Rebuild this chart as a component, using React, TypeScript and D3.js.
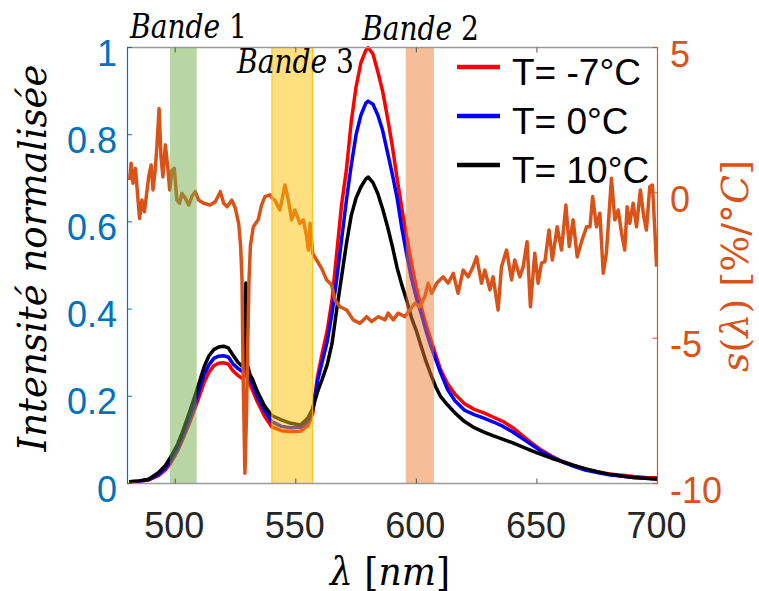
import React from "react";
import * as d3 from "d3";

// ---------- data ----------
const wavelengths = [
  481, 485, 489, 493, 496, 498, 501, 503, 506, 509,
  512, 514, 516, 518, 520, 522, 524, 526, 527.5, 528.5,
  529.3, 530, 531, 532, 534, 537, 540, 544, 548, 552,
  555, 557, 559, 561, 563, 565, 567, 569, 571, 573,
  575, 577, 579, 580, 582, 584, 586, 588, 590, 592,
  594, 596, 598, 600, 602, 604, 606, 608, 610, 613,
  616, 620, 624, 628, 632, 636, 640, 644, 648, 652,
  656, 660, 665, 670, 675, 680, 685, 690, 695, 700,
];

const intensityMinus7 = [
  0.003, 0.005, 0.008, 0.018, 0.032, 0.046, 0.075, 0.1, 0.14, 0.185,
  0.232, 0.255, 0.27, 0.276, 0.277, 0.274, 0.258, 0.248, 0.242, 0.245,
  0.3, 0.24, 0.228, 0.215, 0.188, 0.155, 0.13, 0.121, 0.119, 0.12,
  0.133, 0.16, 0.245, 0.3, 0.35, 0.42, 0.53, 0.64, 0.72, 0.83,
  0.91, 0.965, 0.993, 1.0, 0.985, 0.945, 0.9, 0.84, 0.775, 0.7,
  0.63, 0.565, 0.505, 0.45, 0.405, 0.365, 0.33, 0.295, 0.262, 0.228,
  0.205, 0.183, 0.17, 0.162, 0.152, 0.142, 0.128, 0.11, 0.092, 0.076,
  0.063, 0.052, 0.042, 0.033, 0.027, 0.022, 0.019, 0.016, 0.014, 0.013,
];

const intensity0 = [
  0.004, 0.005, 0.009, 0.02, 0.036, 0.052, 0.082, 0.108, 0.152, 0.198,
  0.25, 0.272, 0.287, 0.292, 0.293, 0.29, 0.274, 0.264, 0.258, 0.26,
  0.33, 0.255, 0.24, 0.228, 0.2, 0.167, 0.142, 0.131, 0.128, 0.129,
  0.142, 0.168, 0.235, 0.28, 0.325, 0.39, 0.47, 0.56, 0.65, 0.73,
  0.8, 0.845, 0.872, 0.877, 0.87, 0.845, 0.81, 0.76, 0.71, 0.655,
  0.585, 0.525, 0.47, 0.425, 0.39, 0.35, 0.315, 0.285, 0.255, 0.215,
  0.19, 0.168, 0.158, 0.15, 0.141, 0.131, 0.118, 0.103, 0.088, 0.073,
  0.061, 0.051, 0.04, 0.031, 0.025, 0.02, 0.017, 0.014, 0.012, 0.011,
];

const intensity10 = [
  0.004, 0.006, 0.01, 0.025, 0.042, 0.06, 0.09, 0.118, 0.165, 0.215,
  0.268, 0.293, 0.307, 0.313, 0.315, 0.311, 0.294, 0.278, 0.27, 0.275,
  0.46, 0.27, 0.25, 0.24, 0.212, 0.178, 0.156, 0.146, 0.138, 0.134,
  0.15, 0.172, 0.21, 0.24, 0.272, 0.32, 0.4, 0.475, 0.55, 0.615,
  0.655, 0.68, 0.698, 0.703, 0.69, 0.665, 0.63, 0.59, 0.545, 0.495,
  0.455, 0.42, 0.38, 0.35, 0.315, 0.28, 0.25, 0.222, 0.2, 0.18,
  0.162, 0.142, 0.128, 0.118, 0.109, 0.101, 0.093, 0.084, 0.075, 0.066,
  0.058, 0.051, 0.042, 0.034, 0.027, 0.021, 0.017, 0.014, 0.012, 0.01,
];

const sWavelengths = [
  481.1, 481.7, 482.5, 483.5, 485.2, 486.2, 487.2, 488.0, 489.0, 490.0,
  490.8, 491.7, 492.4, 493.3, 494.1, 494.9, 495.9, 496.9, 497.7, 498.7,
  499.6, 500.7, 501.8, 502.8, 504.2, 505.6, 506.9, 508.3, 509.7, 511.8,
  514.5, 516.6, 518.7, 520.1, 521.5, 523.5, 524.9, 526.3, 527.1, 527.7,
  528.2, 528.9, 529.6, 530.0, 530.6, 531.2, 532.4, 534.4, 535.8, 537.2,
  539.3, 540.4, 541.3, 543.4, 545.5, 546.9, 548.3, 549.6, 551.7, 553.1,
  554.5, 555.2, 555.9, 557.0, 558.6, 560.7, 562.8, 564.9, 566.2, 568.3,
  571.1, 573.8, 576.6, 579.4, 581.4, 584.2, 587.0, 588.3, 590.4, 592.5,
  595.2, 597.3, 599.4, 601.4, 603.5, 604.9, 606.3, 608.4, 611.1, 613.2,
  615.3, 617.3, 619.4, 621.5, 623.5, 625.0, 627.0, 628.4, 630.5, 631.8,
  633.9, 635.3, 637.4, 639.5, 640.8, 642.9, 644.3, 645.9, 647.3, 649.1,
  650.5, 651.9, 653.3, 655.0, 656.4, 658.4, 660.2, 662.0, 663.4, 665.0,
  666.7, 668.5, 670.6, 672.0, 673.1, 674.7, 676.1, 677.5, 678.8, 680.9,
  682.3, 683.7, 685.1, 686.4, 687.4, 688.5, 689.9, 691.3, 692.9, 694.3,
  695.4, 696.8, 697.9, 698.9, 699.6,
];

const sValues = [
  0.44, 1.02, 0.33, 0.84, -0.88, -0.25, -0.65, -0.13, 0.55, 0.96,
  0.1, 0.79, 1.59, 2.9, 1.24, 0.55, 1.65, 0.9, 0.1, 0.79,
  0.84, -0.25, -0.36, -0.02, -0.19, -0.42, -0.13, 0.04, -0.25, -0.36,
  -0.42, -0.31, 0.04, -0.36, -0.48, -0.25, -0.53, -1.05, -1.8, -3.0,
  -6.5, -9.65, -7.5, -5.5, -3.0, -1.8, -1.17, -0.93, -0.42, -0.13,
  -0.07, -0.2, -0.25, -0.59, 0.27, -0.25, -0.93, -0.59, -1.05, -0.93,
  -1.51, -1.97, -1.05, -2.08, -2.31, -2.6, -3.0, -3.17, -3.69, -3.92,
  -4.03, -4.37, -4.49, -4.26, -4.43, -4.26, -4.37, -4.14, -4.37, -4.14,
  -4.26, -4.03, -3.8, -3.92, -3.57, -3.11, -3.46, -3.11, -2.89, -3.11,
  -2.77, -3.46, -2.66, -2.89, -2.54, -2.2, -3.11, -2.66, -3.34, -2.89,
  -4.03, -2.54, -1.97, -3.0, -2.31, -2.89, -2.54, -1.68, -3.92, -2.08,
  -3.11, -2.42, -2.37, -1.28, -2.31, -1.17, -1.97, -0.42, -1.85, -0.93,
  -2.2, -1.68, -1.17, -1.17, -0.13, -1.17, -0.7, -2.77, -2.08, 0.5,
  -0.93, -0.59, -1.39, -1.97, -0.48, -1.05, -0.36, -1.17, 0.1, -0.82,
  -1.28, 0.21, 0.27, -1.28, -2.54,
];

const xTicks = [500, 550, 600, 650, 700];
const yLeftTicks = [0, 0.2, 0.4, 0.6, 0.8, 1];
const yRightTicks = [-10, -5, 0, 5];

const bandNames = ["Bande 1", "Bande 3", "Bande 2"];
const bandRanges: [number, number][] = [
  [497.8, 508.9],
  [540.1, 557.0],
  [595.6, 607.3],
];

const legendLabels = ["T= -7°C", "T= 0°C", "T= 10°C"];

// ---------- layout ----------
const W = 759;
const H = 591;
const L = 127;
const R = 657.5;
const T = 47.5;
const B = 483.5;

const BLUE = "#0072BD";
const ORANGE = "#D95319";

export default function App() {
  const x = d3.scaleLinear().domain([480, 700]).range([L, R]);
  const yL = d3.scaleLinear().domain([0, 1]).range([B, T]);
  const yR = d3.scaleLinear().domain([-10, 5]).range([B, T]);

  const lineL = (vals: number[]) =>
    d3
      .line<number>()
      .x((_, i) => x(wavelengths[i]))
      .y((d) => yL(d))(vals) || "";

  const sPath =
    d3
      .line<number>()
      .x((_, i) => x(sWavelengths[i]))
      .y((d) => yR(d))(sValues) || "";

  const series = [
    { vals: intensityMinus7, color: "#FF0000" },
    { vals: intensity0, color: "#0000FF" },
    { vals: intensity10, color: "#000000" },
  ];

  const bandStyles = [
    { fill: "#70AD47", stroke: "none" },
    { fill: "#FFBF00", stroke: "#FFC000" },
    { fill: "#ED7D31", stroke: "none" },
  ];

  const bandLabelPos = [
    { x: 130, y: 38 },
    { x: 237, y: 73 },
    { x: 362, y: 40 },
  ];

  const mathFont = "'DejaVu Serif', serif";
  const sansFont = "'Liberation Sans', Arial, sans-serif";

  return (
    <svg
      width={W}
      height={H}
      style={{ position: "absolute", left: 0, top: 0, background: "#fff" }}
    >
      <defs>
        <clipPath id="plot">
          <rect x={L} y={T - 2} width={R - L} height={B - T + 4} />
        </clipPath>
      </defs>
      <rect x={0} y={0} width={W} height={H} fill="#fff" />

      {/* curves */}
      <g clipPath="url(#plot)" fill="none" strokeLinejoin="round">
        {series.map((s, i) => (
          <path key={i} d={lineL(s.vals)} stroke={s.color} strokeWidth={3.5} />
        ))}
        <path d={sPath} stroke={ORANGE} strokeWidth={3.5} />
      </g>

      {/* bands */}
      {bandRanges.map((r, i) => (
        <rect
          key={i}
          x={x(r[0])}
          y={T}
          width={x(r[1]) - x(r[0])}
          height={B - T}
          fill={bandStyles[i].fill}
          fillOpacity={0.5}
          stroke={bandStyles[i].stroke}
          strokeWidth={1}
        />
      ))}

      {/* top / bottom axes */}
      <line x1={L} x2={R} y1={T} y2={T} stroke="#9a9a9a" strokeWidth={1.5} />
      <line x1={L} x2={R} y1={B} y2={B} stroke="#9a9a9a" strokeWidth={1.5} />
      {xTicks.map((t) => (
        <g key={t}>
          <line x1={x(t)} x2={x(t)} y1={B} y2={B - 5} stroke="#555" strokeWidth={1} />
          <line x1={x(t)} x2={x(t)} y1={T} y2={T + 5} stroke="#555" strokeWidth={1} />
          <text
            x={x(t) - 1}
            y={538}
            textAnchor="middle"
            fontFamily={sansFont}
            fontSize={36}
            fill="#262626"
          >
            {t}
          </text>
        </g>
      ))}

      {/* left axis */}
      <line x1={L + 0.5} x2={L + 0.5} y1={T} y2={B} stroke={BLUE} strokeWidth={1.2} />
      {yLeftTicks.map((t) => (
        <g key={t}>
          <line x1={L} x2={L + 5} y1={yL(t)} y2={yL(t)} stroke={BLUE} strokeWidth={1} />
          <text
            x={117}
            y={yL(t) + 18}
            textAnchor="end"
            fontFamily={sansFont}
            fontSize={36}
            fill={BLUE}
          >
            {t}
          </text>
        </g>
      ))}

      {/* right axis */}
      <line x1={R} x2={R} y1={T} y2={B} stroke={ORANGE} strokeWidth={1.2} />
      {yRightTicks.map((t) => (
        <g key={t}>
          <line x1={R} x2={R - 5} y1={yR(t)} y2={yR(t)} stroke={ORANGE} strokeWidth={1} />
          <text
            x={670}
            y={yR(t) + 19}
            textAnchor="start"
            fontFamily={sansFont}
            fontSize={36}
            fill={ORANGE}
          >
            {t}
          </text>
        </g>
      ))}

      {/* axis labels */}
      <text
        transform="translate(46,258) rotate(-90)"
        textAnchor="middle"
        fontFamily={mathFont}
        fontSize={40}
        fontStyle="italic"
        fill="#000"
        textLength={387}
        lengthAdjust="spacingAndGlyphs"
      >
        Intensité normalisée
      </text>
      <text
        transform="translate(748,266) rotate(-90)"
        textAnchor="middle"
        fontFamily={mathFont}
        fontSize={38}
        fill={ORANGE}
        textLength={212}
        lengthAdjust="spacingAndGlyphs"
      >
        <tspan fontStyle="italic">s</tspan>
        <tspan>(</tspan>
        <tspan fontStyle="italic">λ</tspan>
        <tspan>) [%/°</tspan>
        <tspan fontStyle="italic">C</tspan>
        <tspan>]</tspan>
      </text>
      <text
        x={390}
        y={585}
        textAnchor="middle"
        fontFamily={mathFont}
        fontSize={40}
        fill="#000"
        textLength={120}
        lengthAdjust="spacingAndGlyphs"
      >
        <tspan fontStyle="italic">λ</tspan>
        <tspan> [</tspan>
        <tspan fontStyle="italic">nm</tspan>
        <tspan>]</tspan>
      </text>

      {/* band labels */}
      {bandNames.map((name, i) => {
        const parts = name.split(" ");
        return (
          <text
            key={name}
            x={bandLabelPos[i].x}
            y={bandLabelPos[i].y}
            fontFamily={mathFont}
            fontSize={34}
            fill="#000"
            textLength={117}
            lengthAdjust="spacingAndGlyphs"
          >
            <tspan fontStyle="italic">{parts[0]}</tspan>
            <tspan> {parts[1]}</tspan>
          </text>
        );
      })}

      {/* legend */}
      {legendLabels.map((lab, i) => (
        <g key={lab}>
          <line
            x1={457}
            x2={500}
            y1={67 + i * 49}
            y2={67 + i * 49}
            stroke={series[i].color}
            strokeWidth={4.5}
          />
          <text
            x={512}
            y={85 + i * 49}
            fontFamily={sansFont}
            fontSize={37}
            fill="#000"
          >
            {lab}
          </text>
        </g>
      ))}
    </svg>
  );
}
